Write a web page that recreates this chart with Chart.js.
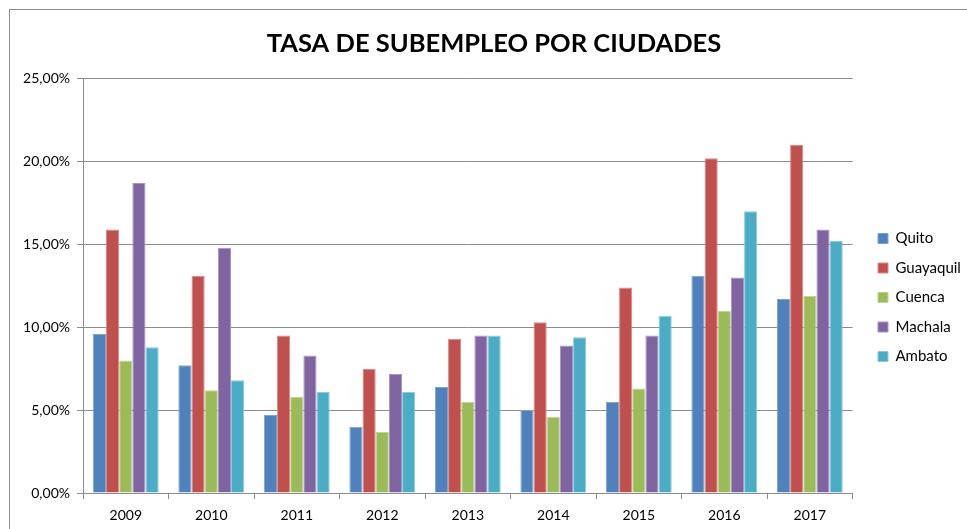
<!DOCTYPE html>
<html>
<head>
<meta charset="utf-8">
<script src="https://cdn.jsdelivr.net/npm/chart.js@4.4.1/dist/chart.umd.min.js"></script>
<style>
  html, body { margin: 0; padding: 0; background: #fff; }
  #wrap { width: 967px; height: 529px; }
</style>
</head>
<body>
<div id="wrap"><canvas id="c" width="967" height="529"></canvas></div>
<script>
const categories = ['2009', '2010', '2011', '2012', '2013', '2014', '2015', '2016', '2017'];
const quito     = [9.6, 7.7, 4.7, 4.0, 6.4, 5.0, 5.5, 13.1, 11.7];
const guayaquil = [15.9, 13.1, 9.5, 7.5, 9.3, 10.3, 12.4, 20.2, 21.0];
const cuenca    = [8.0, 6.2, 5.8, 3.7, 5.5, 4.6, 6.3, 11.0, 11.9];
const machala   = [18.7, 14.8, 8.3, 7.2, 9.5, 8.9, 9.5, 13.0, 15.9];
const ambato    = [8.8, 6.8, 6.1, 6.1, 9.5, 9.4, 10.7, 17.0, 15.2];
const yTicks    = [0, 5, 10, 15, 20, 25];
const titleText = 'TASA DE SUBEMPLEO POR CIUDADES';

const FONT = 'Lato, "Open Sans", sans-serif';

const frame = {
  id: 'frame',
  beforeDraw(chart) {
    const ctx = chart.ctx;
    ctx.save();
    ctx.fillStyle = '#fff';
    ctx.fillRect(0, 0, chart.width, chart.height);
    ctx.strokeStyle = '#8c8c8c';
    ctx.lineWidth = 1;
    ctx.strokeRect(9.5, 9.5, chart.width + 20, chart.height + 20);
    ctx.restore();
  },
  afterLayout(chart) {
    const l = chart.legend;
    if (l) {
      const dy = 28;
      l.top += dy; l.bottom += dy;
      const dx = 863.5 - l.left;
      l.left += dx; l.right += dx;
    }
    const t = chart.titleBlock;
    if (t) { t.left += 14; t.right += 14; }
  }
};

function ds(label, data, color, edge) {
  return { label, data, backgroundColor: color, borderColor: edge, borderWidth: 1 };
}

new Chart(document.getElementById('c'), {
  type: 'bar',
  data: {
    labels: categories,
    datasets: [
      ds('Quito', quito, '#4F81BD', '#7ea3d2'),
      ds('Guayaquil', guayaquil, '#C0504D', '#d88a88'),
      ds('Cuenca', cuenca, '#9BBB59', '#bdd48f'),
      ds('Machala', machala, '#8064A2', '#a893c2'),
      ds('Ambato', ambato, '#4BACC6', '#8acbdc')
    ]
  },
  options: {
    responsive: false,
    animation: false,
    devicePixelRatio: 1,
    layout: { padding: { top: 10, left: 0, bottom: 0, right: 7 } },
    datasets: { bar: { categoryPercentage: 0.77, barPercentage: 1.0 } },
    plugins: {
      title: {
        display: true,
        text: titleText,
        color: '#000',
        font: { family: FONT, size: 25.5, weight: 'bold' },
        padding: { top: 18, bottom: 20 }
      },
      legend: {
        position: 'right',
        align: 'center',
        labels: {
          color: '#000',
          font: { family: FONT, size: 15 },
          boxWidth: 10,
          boxHeight: 10,
          padding: 14.5
        }
      },
      tooltip: { enabled: false }
    },
    scales: {
      x: {
        grid: { display: true, offset: true, drawOnChartArea: false, drawTicks: true, tickLength: 6, color: '#8c8c8c' },
        border: { display: true, color: '#8c8c8c' },
        ticks: { color: '#000', font: { family: FONT, size: 14 }, padding: 8, maxRotation: 0 },
        afterFit(scale) { scale.height = 36; }
      },
      y: {
        min: 0,
        max: 25,
        afterBuildTicks(scale) { scale.ticks = yTicks.map(v => ({ value: v })); },
        grid: { color: '#8c8c8c', tickLength: 6 },
        border: { display: true, color: '#8c8c8c' },
        ticks: {
          color: '#000',
          font: { family: FONT, size: 14 },
          padding: 7,
          callback: v => v.toFixed(2).replace('.', ',') + '%'
        },
        afterFit(scale) { scale.width = 83; }
      }
    }
  },
  plugins: [frame]
});
</script>
</body>
</html>
